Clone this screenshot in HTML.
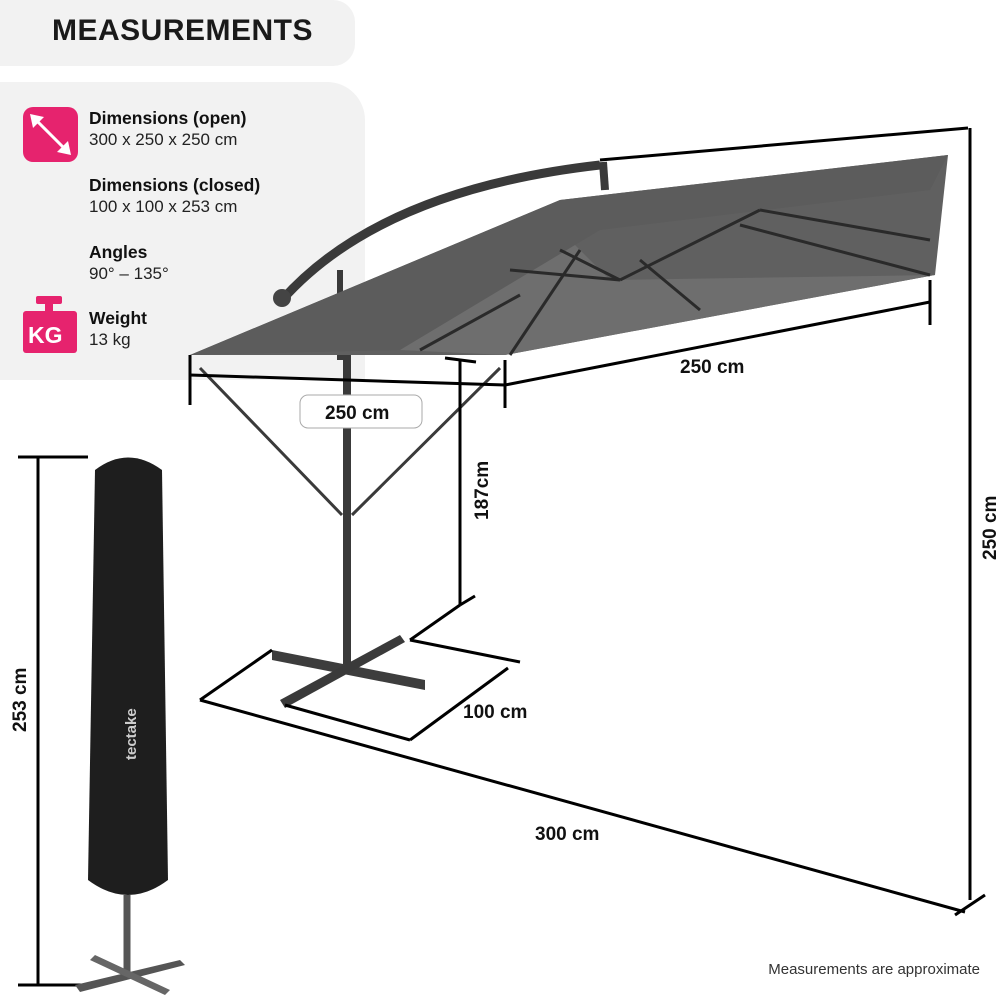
<!DOCTYPE html>
<html><head><meta charset="utf-8"><style>
body{margin:0;background:#fff;}
.wrap{position:relative;width:1000px;height:1000px;overflow:hidden;font-family:"Liberation Sans",sans-serif;}
.hdr{position:absolute;left:0;top:0;width:355px;height:66px;background:#f2f2f2;border-radius:0 22px 22px 0;}
.hdr span{position:absolute;left:52px;top:14px;font-weight:bold;font-size:30px;color:#1a1a1a;letter-spacing:0.5px;}
.panel{position:absolute;left:0;top:82px;width:365px;height:298px;background:#f2f2f2;border-radius:0 38px 0 0;}
.t{position:absolute;left:89px;font-size:17px;color:#222;line-height:21px;}
.t b{font-size:17.5px;color:#111;}
.note{position:absolute;right:20px;top:961px;font-size:15px;color:#333;}
</style></head><body><div class="wrap">
<div class="panel"></div>
<svg width="1000" height="1000" style="position:absolute;left:0;top:0">
<!-- arm -->
<path d="M282,300 Q380,190 600,165" fill="none" stroke="#3a3a3a" stroke-width="9"/>
<circle cx="282" cy="298" r="9" fill="#444"/>
<line x1="603" y1="162" x2="605" y2="190" stroke="#3a3a3a" stroke-width="8"/>
<line x1="340" y1="270" x2="340" y2="360" stroke="#3a3a3a" stroke-width="6"/>
<!-- canopy -->
<polygon points="190,355 560,200 948,155 935,275 505,355" fill="#606060"/>
<polygon points="400,350 560,230 610,280 935,275 505,355" fill="#6e6e6e"/>
<polygon points="190,355 560,200 948,155 930,190 600,230 400,350" fill="#5c5c5c"/>
<g stroke="#2a2a2a" stroke-width="3">
<line x1="620" y1="280" x2="760" y2="210"/><line x1="620" y1="280" x2="560" y2="250"/>
<line x1="510" y1="270" x2="620" y2="280"/><line x1="760" y1="210" x2="930" y2="240"/>
<line x1="740" y1="225" x2="930" y2="275"/><line x1="520" y1="295" x2="420" y2="350"/>
<line x1="580" y1="250" x2="510" y2="355"/><line x1="640" y1="260" x2="700" y2="310"/>
</g>
<!-- pole -->
<line x1="347" y1="355" x2="347" y2="665" stroke="#3a3a3a" stroke-width="8"/>
<line x1="200" y1="368" x2="342" y2="515" stroke="#3a3a3a" stroke-width="3"/>
<line x1="500" y1="368" x2="352" y2="515" stroke="#3a3a3a" stroke-width="3"/>
<!-- base -->
<polygon points="272,650 425,680 425,690 272,660" fill="#3d3d3d"/>
<polygon points="280,700 400,635 405,642 285,708" fill="#3a3a3a"/>
<!-- dimension lines -->
<g stroke="#000" stroke-width="3" fill="none">
<line x1="600" y1="160" x2="968" y2="128"/>
<line x1="970" y1="128" x2="970" y2="900"/>
<line x1="955" y1="915" x2="985" y2="895"/>
<line x1="190" y1="375" x2="505" y2="385"/>
<line x1="190" y1="355" x2="190" y2="405"/>
<line x1="505" y1="360" x2="505" y2="408"/>
<line x1="505" y1="385" x2="930" y2="302"/>
<line x1="930" y1="280" x2="930" y2="325"/>
<line x1="460" y1="360" x2="460" y2="605"/>
<line x1="445" y1="358" x2="476" y2="362"/>
<line x1="460" y1="605" x2="475" y2="596"/>
<line x1="460" y1="605" x2="410" y2="640"/>
<line x1="410" y1="640" x2="520" y2="662"/>
<line x1="410" y1="740" x2="508" y2="668"/>
<line x1="285" y1="705" x2="410" y2="740"/>
<line x1="200" y1="700" x2="965" y2="912"/>
<line x1="200" y1="700" x2="272" y2="650"/>
<line x1="38" y1="457" x2="38" y2="985"/>
<line x1="18" y1="457" x2="88" y2="457"/>
<line x1="18" y1="985" x2="92" y2="985"/>
</g>
<!-- cover -->
<path d="M95,470 Q128,445 162,470 L168,880 Q128,910 88,880 Z" fill="#1e1e1e"/>
<line x1="127" y1="895" x2="127" y2="975" stroke="#555" stroke-width="7"/>
<polygon points="75,985 180,960 185,965 80,992" fill="#555"/>
<polygon points="95,955 170,990 165,995 90,960" fill="#666"/>
<text x="0" y="0" transform="translate(136,760) rotate(-90)" font-family="Liberation Sans" font-size="15" fill="#ccc" font-weight="bold">tectake</text>
<!-- label box -->
<rect x="300" y="395" width="122" height="33" rx="8" fill="#fff" stroke="#aaa"/>
<g font-family="Liberation Sans" font-weight="bold" fill="#111" font-size="19">
<text x="325" y="419">250 cm</text>
<text x="680" y="373">250 cm</text>
<text x="463" y="718">100 cm</text>
<text x="535" y="840">300 cm</text>
<text transform="translate(488,520) rotate(-90)">187cm</text>
<text transform="translate(996,560) rotate(-90)">250 cm</text>
<text transform="translate(26,732) rotate(-90)">253 cm</text>
</g>
<!-- icons -->
<rect x="23" y="107" width="55" height="55" rx="10" fill="#e6236e"/>
<line x1="35" y1="119" x2="66" y2="150" stroke="#fff" stroke-width="3"/>
<polygon points="30,114 44,117 33,128" fill="#fff"/><polygon points="71,155 57,152 68,141" fill="#fff"/>
<rect x="36" y="296" width="26" height="8" rx="2" fill="#e6236e"/>
<rect x="45" y="302" width="8" height="10" fill="#e6236e"/>
<rect x="23" y="311" width="54" height="42" rx="3" fill="#e6236e"/>
<text x="28" y="343" font-family="Liberation Sans" font-weight="bold" font-size="23" fill="#fff">KG</text>
</svg>
<div class="hdr"><span>MEASUREMENTS</span></div>
<div class="t" style="top:108px"><b>Dimensions (open)</b><br>300 x 250 x 250 cm</div>
<div class="t" style="top:175px"><b>Dimensions (closed)</b><br>100 x 100 x 253 cm</div>
<div class="t" style="top:242px"><b>Angles</b><br>90° – 135°</div>
<div class="t" style="top:308px"><b>Weight</b><br>13 kg</div>
<div class="note">Measurements are approximate</div>
</div></body></html>
